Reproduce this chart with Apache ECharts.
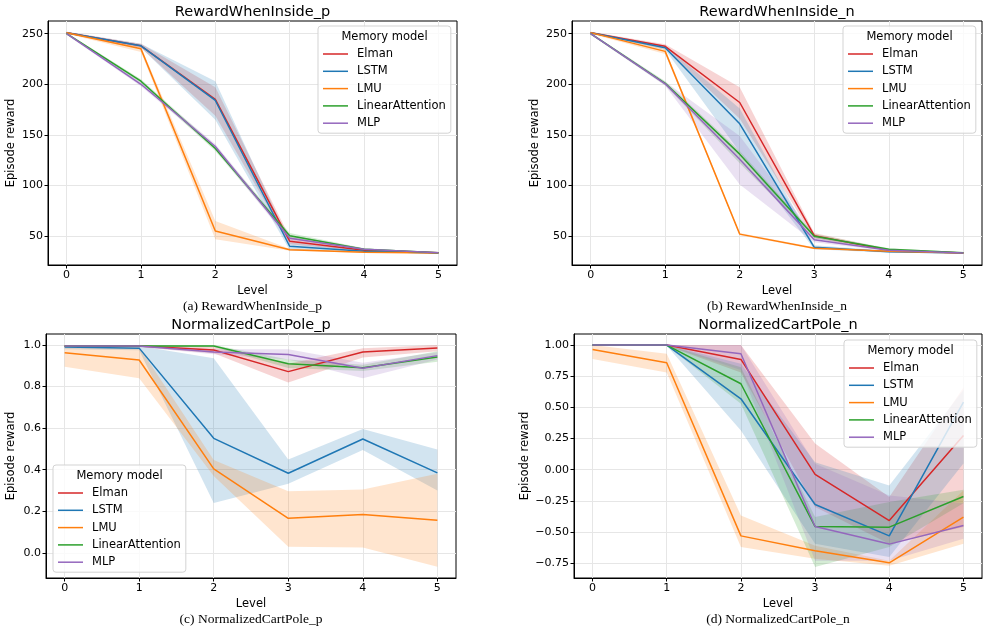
<!DOCTYPE html>
<html>
<head>
    <meta charset="utf-8">
    <title>Memory models</title>
    <script src="https://cdn.jsdelivr.net/npm/echarts@6/dist/echarts.min.js"></script>
    <style>
        html, body { margin: 0; padding: 0; background: #fff; }
        #main { width: 990px; height: 631px; }
    </style>
</head>
<body>
<div id="main"></div>
<script type="text/javascript">
// x values and legend order
var levels = [0, 1, 2, 3, 4, 5];
var models = ['Elman', 'LSTM', 'LMU', 'LinearAttention', 'MLP'];
var colors = ['#d62728', '#1f77b4', '#ff7f0e', '#2ca02c', '#9467bd'];

// (a) RewardWhenInside_p : mean, lower, upper
var aElman   = [251, 238, 185, 45, 36, 33.5];
var aElmanLo = [250, 236, 169, 42, 35, 33];
var aElmanHi = [252, 240, 197, 49, 37.5, 34];
var aLSTM    = [251, 238, 184, 40, 35, 33.3];
var aLSTMLo  = [250, 236, 165, 36, 34, 33];
var aLSTMHi  = [252, 240, 203, 44, 36, 33.6];
var aLMU     = [251, 235, 55, 36.5, 34, 33.3];
var aLMULo   = [250, 232, 47, 35.5, 33.5, 33];
var aLMUHi   = [252, 237, 65, 37.5, 34.5, 33.6];
var aLinAtt   = [250, 203, 136.5, 50.5, 37, 33.5];
var aLinAttLo = [249, 201, 134, 48, 36, 33];
var aLinAttHi = [251, 205, 139, 53, 38, 34];
var aMLP     = [250, 200, 138.5, 48, 37, 33.5];
var aMLPLo   = [249, 198, 136, 45, 36, 33];
var aMLPHi   = [251, 202, 141, 51, 38, 34];

// (b) RewardWhenInside_n
var bElman   = [251, 237.5, 182, 50.5, 36, 33.3];
var bElmanLo = [250, 235.5, 166, 48, 35, 33];
var bElmanHi = [252, 239.5, 197, 53, 37, 33.6];
var bLSTM    = [251, 236, 161, 39, 34.5, 33.3];
var bLSTMLo  = [250, 234, 133, 37, 33.5, 33];
var bLSTMHi  = [252, 238, 176, 41, 35.5, 33.6];
var bLMU     = [251, 232.5, 52, 38, 35, 33.3];
var bLMULo   = [250, 230, 51, 37, 34.5, 33];
var bLMUHi   = [252, 235, 53, 39, 35.5, 33.6];
var bLinAtt   = [250, 201, 131, 50, 37, 33.5];
var bLinAttLo = [249, 199, 122, 48, 36, 33];
var bLinAttHi = [251, 203, 134, 52, 38, 34];
var bMLP     = [250, 200.5, 126, 46.5, 36, 33.3];
var bMLPLo   = [249, 198.5, 101, 44, 35, 33];
var bMLPHi   = [251, 202.5, 149, 51, 37, 33.6];

// (c) NormalizedCartPole_p
var cElman   = [0.995, 0.995, 0.976, 0.872, 0.966, 0.986];
var cElmanLo = [0.99, 0.99, 0.96, 0.82, 0.94, 0.97];
var cElmanHi = [1.0, 1.0, 0.99, 0.91, 0.985, 1.0];
var cLSTM    = [0.99, 0.985, 0.551, 0.383, 0.548, 0.385];
var cLSTMLo  = [0.98, 0.975, 0.24, 0.332, 0.495, 0.30];
var cLSTMHi  = [1.0, 0.995, 0.936, 0.449, 0.596, 0.497];
var cLMU     = [0.963, 0.928, 0.404, 0.166, 0.185, 0.157];
var cLMULo   = [0.895, 0.84, 0.37, 0.029, 0.026, -0.067];
var cLMUHi   = [0.995, 0.99, 0.447, 0.296, 0.305, 0.38];
var cLinAtt   = [0.995, 0.995, 0.995, 0.91, 0.891, 0.942];
var cLinAttLo = [0.99, 0.99, 0.99, 0.89, 0.875, 0.92];
var cLinAttHi = [1.0, 1.0, 1.0, 0.93, 0.905, 0.97];
var cMLP     = [0.995, 0.995, 0.966, 0.954, 0.888, 0.949];
var cMLPLo   = [0.99, 0.99, 0.955, 0.93, 0.84, 0.93];
var cMLPHi   = [1.0, 1.0, 0.98, 0.98, 0.915, 0.965];

// (d) NormalizedCartPole_n
var dElman   = [1.0, 1.0, 0.885, -0.038, -0.408, 0.275];
var dElmanLo = [0.995, 0.995, 0.78, -0.30, -0.595, -0.46];
var dElmanHi = [1.0, 1.0, 1.0, 0.21, -0.22, 0.66];
var dLSTM    = [1.0, 1.0, 0.569, -0.279, -0.531, 0.542];
var dLSTMLo  = [0.995, 0.995, 0.315, -0.595, -0.70, 0.05];
var dLSTMHi  = [1.0, 1.0, 0.85, 0.06, -0.127, 0.64];
var dLMU     = [0.965, 0.858, -0.531, -0.651, -0.747, -0.381];
var dLMULo   = [0.888, 0.78, -0.62, -0.715, -0.77, -0.595];
var dLMUHi   = [1.0, 0.93, -0.367, -0.61, -0.73, -0.167];
var dLinAtt   = [1.0, 1.0, 0.69, -0.456, -0.461, -0.215];
var dLinAttLo = [0.995, 0.995, 0.529, -0.78, -0.62, -0.27];
var dLinAttHi = [1.0, 1.0, 0.823, -0.38, -0.26, -0.16];
var dMLP     = [1.0, 1.0, 0.93, -0.456, -0.597, -0.448];
var dMLPLo   = [0.995, 0.995, 0.8, -0.73, -0.73, -0.555];
var dMLPHi   = [1.0, 1.0, 1.0, 0.047, -0.207, -0.27];

// tick labels
var xTicks = [0, 1, 2, 3, 4, 5];
var yTicksA = [50, 100, 150, 200, 250];
var yTicksC = [0, 0.2, 0.4, 0.6, 0.8, 1.0];
var yTicksD = [-0.75, -0.5, -0.25, 0, 0.25, 0.5, 0.75, 1.0];

var panelTitles = ['RewardWhenInside_p', 'RewardWhenInside_n', 'NormalizedCartPole_p', 'NormalizedCartPole_n'];
var captions = ['(a) RewardWhenInside_p', '(b) RewardWhenInside_n', '(c) NormalizedCartPole_p', '(d) NormalizedCartPole_n'];

var panels = [
    { mean: [aElman, aLSTM, aLMU, aLinAtt, aMLP], lo: [aElmanLo, aLSTMLo, aLMULo, aLinAttLo, aMLPLo], hi: [aElmanHi, aLSTMHi, aLMUHi, aLinAttHi, aMLPHi] },
    { mean: [bElman, bLSTM, bLMU, bLinAtt, bMLP], lo: [bElmanLo, bLSTMLo, bLMULo, bLinAttLo, bMLPLo], hi: [bElmanHi, bLSTMHi, bLMUHi, bLinAttHi, bMLPHi] },
    { mean: [cElman, cLSTM, cLMU, cLinAtt, cMLP], lo: [cElmanLo, cLSTMLo, cLMULo, cLinAttLo, cMLPLo], hi: [cElmanHi, cLSTMHi, cLMUHi, cLinAttHi, cMLPHi] },
    { mean: [dElman, dLSTM, dLMU, dLinAtt, dMLP], lo: [dElmanLo, dLSTMLo, dLMULo, dLinAttLo, dMLPLo], hi: [dElmanHi, dLSTMHi, dLMUHi, dLinAttHi, dMLPHi] }
];

var FONT = 'DejaVu Sans';
var grids = [
    { left: 48, top: 21, width: 409, height: 244 },
    { left: 572, top: 21, width: 410, height: 244 },
    { left: 46, top: 334, width: 410, height: 244 },
    { left: 574, top: 334, width: 408, height: 244 }
];
var yRanges = [[21.5, 262.5], [21.5, 262.5], [-0.121, 1.053], [-0.869, 1.089]];
var yTickSets = [yTicksA, yTicksA, yTicksC, yTicksD];
var yNameGaps = [31, 31, 29, 43];
var legendPos = [[318, 26], [843, 26], [53, 465], [844, 340]];

function fmtY(p) {
    return function (v) {
        var s = Math.abs(v).toFixed(p);
        return v < 0 ? '\u2212' + s : s;
    };
}
var yFormatters = [fmtY(0), fmtY(0), fmtY(1), fmtY(2)];

function hexA(hex, a) {
    var r = parseInt(hex.slice(1, 3), 16), g = parseInt(hex.slice(3, 5), 16), b = parseInt(hex.slice(5, 7), 16);
    return 'rgba(' + r + ',' + g + ',' + b + ',' + a + ')';
}

var gridLine = { show: true, lineStyle: { color: '#e6e6e6', width: 1 } };
// plain line swatch for legend entries
var lineIcon = 'path://M0,0 L50,0 L50,3 L0,3 Z';

var xAxes = [], yAxes = [], series = [], legends = [], graphics = [];
grids.forEach(function (g, gi) {
    xAxes.push({
        type: 'value', gridIndex: gi, min: -0.25, max: 5.25,
        name: 'Level', nameLocation: 'middle', nameGap: 20,
        nameTextStyle: { fontFamily: FONT, fontSize: 11.5, color: '#000' },
        axisLine: { show: true, onZero: false, lineStyle: { color: '#000', width: 1 } },
        axisTick: { show: true, length: 3.5, customValues: xTicks, lineStyle: { color: '#000' } },
        axisLabel: { customValues: xTicks, margin: 5, fontFamily: FONT, fontSize: 11, color: '#000' },
        splitLine: gridLine
    });
    yAxes.push({
        type: 'value', gridIndex: gi, min: yRanges[gi][0], max: yRanges[gi][1],
        name: 'Episode reward', nameLocation: 'middle', nameGap: yNameGaps[gi], nameRotate: 90,
        nameTextStyle: { fontFamily: FONT, fontSize: 11.5, color: '#000' },
        axisLine: { show: true, onZero: false, lineStyle: { color: '#000', width: 1 } },
        axisTick: { show: true, length: 3.5, customValues: yTickSets[gi], lineStyle: { color: '#000' } },
        axisLabel: { customValues: yTickSets[gi], margin: 5, fontFamily: FONT, fontSize: 11, color: '#000', formatter: yFormatters[gi] },
        splitLine: gridLine
    });

    var p = panels[gi];
    models.forEach(function (m, mi) {
        var col = colors[mi];
        series.push({
            type: 'custom', name: m + ' band', xAxisIndex: gi, yAxisIndex: gi,
            data: levels.map(function (x, i) { return [x, p.lo[mi][i], p.hi[mi][i]]; }),
            encode: { x: 0, y: [1, 2] }, clip: true, silent: true, z: 1,
            renderItem: function (params, api) {
                if (params.dataIndexInside !== 0) return null;
                var n = params.dataInsideLength, top = [], bot = [];
                for (var j = 0; j < n; j++) {
                    top.push(api.coord([api.value(0, j), api.value(2, j)]));
                    bot.push(api.coord([api.value(0, j), api.value(1, j)]));
                }
                return { type: 'polygon', shape: { points: top.concat(bot.reverse()) }, style: { fill: hexA(col, 0.2) } };
            }
        });
    });
    models.forEach(function (m, mi) {
        series.push({
            type: 'line', name: m, xAxisIndex: gi, yAxisIndex: gi,
            data: levels.map(function (x, i) { return [x, p.mean[mi][i]]; }),
            symbol: 'none', showSymbol: false, silent: true, z: 3,
            color: colors[mi],
            lineStyle: { color: colors[mi], width: 1.5 }
        });
    });

    legends.push({
        orient: 'vertical', left: legendPos[gi][0], top: legendPos[gi][1],
        data: models.map(function (m) { return { name: m, icon: lineIcon }; }),
        selectedMode: false, symbolKeepAspect: true,
        itemWidth: 25, itemHeight: 12, itemGap: 5.3,
        padding: [22, 5, 4, 5],
        backgroundColor: 'rgba(255,255,255,0.8)', borderColor: '#d3d3d3', borderWidth: 1, borderRadius: 3,
        textStyle: { fontFamily: FONT, fontSize: 11.5, color: '#000', padding: [0, 0, 0, 4] }
    });

    var cx = g.left + g.width / 2;
    graphics.push({
        type: 'text', x: legendPos[gi][0] + 66.5, y: legendPos[gi][1] + 11, z: 100,
        style: { text: 'Memory model', fontFamily: FONT, fontSize: 11.5, fill: '#000', align: 'center', verticalAlign: 'middle' }
    });
    graphics.push({
        type: 'text', x: cx, y: g.top - 9,
        style: { text: panelTitles[gi], fontFamily: FONT, fontSize: 14.5, fill: '#000', align: 'center', verticalAlign: 'middle' }
    });
    graphics.push({
        type: 'text', x: cx, y: g.top + g.height + 41,
        style: { text: captions[gi], fontFamily: 'Liberation Serif', fontSize: 13.5, fill: '#000', align: 'center', verticalAlign: 'middle' }
    });
});

var option = {
    animation: false,
    backgroundColor: '#fff',
    grid: grids.map(function (g) {
        return { left: g.left, top: g.top, width: g.width, height: g.height, show: true, borderColor: '#000', borderWidth: 1, backgroundColor: 'transparent' };
    }),
    xAxis: xAxes,
    yAxis: yAxes,
    legend: legends,
    graphic: graphics,
    series: series
};

var myChart = echarts.init(document.getElementById('main'));
myChart.setOption(option);
</script>
</body>
</html>
